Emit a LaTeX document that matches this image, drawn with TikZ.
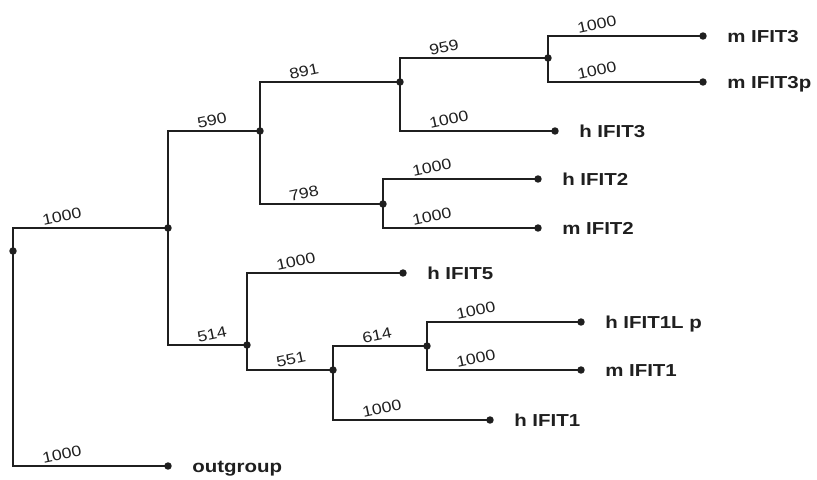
\documentclass[tikz,border=0pt]{standalone}
\usepackage{fontspec}
\setmainfont{Liberation Sans}
\newfontfamily\treefont[FakeStretch=1.18]{Liberation Sans}
\colorlet{treeink}{black!88}
\usetikzlibrary{calc}

\begin{document}
\begin{tikzpicture}[x=0.75pt,y=-0.75pt,
    branch/.style={treeink, line width=1.1pt},
    boot/.style={anchor=south west, inner sep=0pt, text=treeink, xshift=22.5pt, yshift=1.2pt, rotate=12,
      font=\treefont\fontsize{11.3}{13}\selectfont},
    taxon/.style={anchor=base west, inner sep=0pt, text=treeink, xshift=18pt, yshift=-4.7pt,
      font=\treefont\bfseries\fontsize{13}{15}\selectfont}]
        \useasboundingbox (0,0) rectangle (817,479);

        \coordinate (root) at (13,251);
        \coordinate (n1) at (168,228);
        \coordinate (n2) at (260,131);
        \coordinate (n3) at (400,82);
        \coordinate (n4) at (383,204);
        \coordinate (n5) at (247,345);
        \coordinate (n6) at (548,58);
        \coordinate (n7) at (333,370);
        \coordinate (n8) at (427,346);

        \coordinate (mifit3) at (703,36);
        \coordinate (mifit3p) at (703,82);
        \coordinate (hifit3) at (555,131);
        \coordinate (hifit2) at (538,179);
        \coordinate (mifit2) at (538,228);
        \coordinate (hifit5) at (403,273);
        \coordinate (hifit1lp) at (581,322);
        \coordinate (mifit1) at (581,370);
        \coordinate (hifit1) at (490,420);
        \coordinate (outgroup) at (168,466);

        \draw[branch] (root) |- node[boot] {1000} (n1);
        \draw[branch] (root) |- node[boot] {1000} (outgroup);
        \draw[branch] (n1) |- node[boot] {590} (n2);
        \draw[branch] (n1) |- node[boot] {514} (n5);
        \draw[branch] (n2) |- node[boot] {891} (n3);
        \draw[branch] (n2) |- node[boot] {798} (n4);
        \draw[branch] (n3) |- node[boot] {959} (n6);
        \draw[branch] (n3) |- node[boot] {1000} (hifit3);
        \draw[branch] (n6) |- node[boot] {1000} (mifit3);
        \draw[branch] (n6) |- node[boot] {1000} (mifit3p);
        \draw[branch] (n4) |- node[boot] {1000} (hifit2);
        \draw[branch] (n4) |- node[boot] {1000} (mifit2);
        \draw[branch] (n5) |- node[boot] {1000} (hifit5);
        \draw[branch] (n5) |- node[boot] {551} (n7);
        \draw[branch] (n7) |- node[boot] {614} (n8);
        \draw[branch] (n7) |- node[boot] {1000} (hifit1);
        \draw[branch] (n8) |- node[boot] {1000} (hifit1lp);
        \draw[branch] (n8) |- node[boot] {1000} (mifit1);

        \foreach \p in {root,n1,n2,n3,n4,n5,n6,n7,n8,mifit3,mifit3p,hifit3,hifit2,mifit2,hifit5,hifit1lp,mifit1,hifit1,outgroup}
          \fill[treeink] (\p) circle [radius=2.8pt];

        \node[taxon] (t-mifit3) at (mifit3) {m IFIT3};
        \node[taxon] (t-mifit3p) at (mifit3p) {m IFIT3p};
        \node[taxon] (t-hifit3) at (hifit3) {h IFIT3};
        \node[taxon] (t-hifit2) at (hifit2) {h IFIT2};
        \node[taxon] (t-mifit2) at (mifit2) {m IFIT2};
        \node[taxon] (t-hifit5) at (hifit5) {h IFIT5};
        \node[taxon] (t-hifit1lp) at (hifit1lp) {h IFIT1L p};
        \node[taxon] (t-mifit1) at (mifit1) {m IFIT1};
        \node[taxon] (t-hifit1) at (hifit1) {h IFIT1};
        \node[taxon] (t-outgroup) at (outgroup) {outgroup};
      \end{tikzpicture}
\end{document}
